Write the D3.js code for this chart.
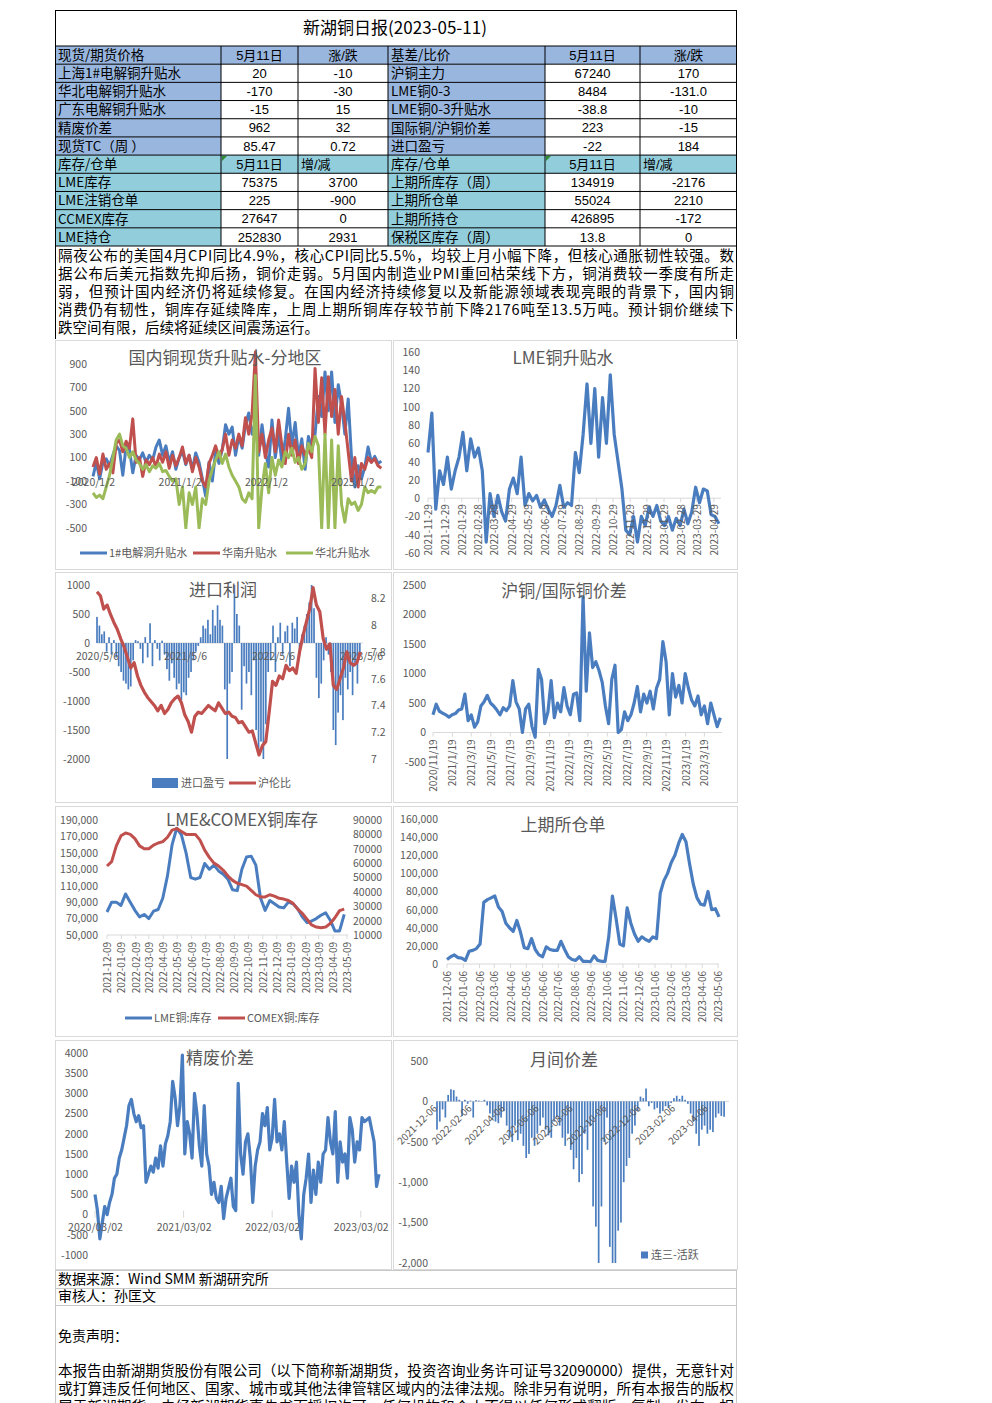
<!DOCTYPE html>
<html><head><meta charset="utf-8">
<script src="https://cdn.jsdelivr.net/npm/d3@7"></script>
<style>
html,body{margin:0;padding:0;background:#fff;}
</style></head><body>
<svg id="page" width="992" height="1403"></svg>
<script>
// ---------------- TABLE DATA ----------------
const tableTitle = "新湖铜日报(2023-05-11)";
const priceHeader = ["现货/期货价格","5月11日","涨/跌","基差/比价","5月11日","涨/跌"];
const priceLabelsL = ["上海1#电解铜升贴水","华北电解铜升贴水","广东电解铜升贴水","精废价差","现货TC（周 ）"];
const priceValuesL = ["20","-170","-15","962","85.47"];
const priceChangesL = ["-10","-30","15","32","0.72"];
const priceLabelsR = ["沪铜主力","LME铜0-3","LME铜0-3升贴水","国际铜/沪铜价差","进口盈亏"];
const priceValuesR = ["67240","8484","-38.8","223","-22"];
const priceChangesR = ["170","-131.0","-10","-15","184"];
const stockHeader = ["库存/仓单","5月11日","增/减","库存/仓单","5月11日","增/减"];
const stockLabelsL = ["LME库存","LME注销仓单","CCMEX库存","LME持仓"];
const stockValuesL = ["75375","225","27647","252830"];
const stockChangesL = ["3700","-900","0","2931"];
const stockLabelsR = ["上期所库存（周）","上期所仓单","上期所持仓","保税区库存（周）"];
const stockValuesR = ["134919","55024","426895","13.8"];
const stockChangesR = ["-2176","2210","-172","0"];
const commentLines = [
"隔夜公布的美国4月CPI同比4.9%，核心CPI同比5.5%，均较上月小幅下降，但核心通胀韧性较强。数",
"据公布后美元指数先抑后扬，铜价走弱。5月国内制造业PMI重回枯荣线下方，铜消费较一季度有所走",
"弱，但预计国内经济仍将延续修复。在国内经济持续修复以及新能源领域表现亮眼的背景下，国内铜",
"消费仍有韧性，铜库存延续降库，上周上期所铜库存较节前下降2176吨至13.5万吨。预计铜价继续下",
"跌空间有限，后续将延续区间震荡运行。"];
const footerLines = ["数据来源：Wind SMM 新湖研究所","审核人：孙匡文"];
const disclaimerTitle = "免责声明：";
const disclaimerLines = [
"本报告由新湖期货股份有限公司（以下简称新湖期货，投资咨询业务许可证号32090000）提供，无意针对",
"或打算违反任何地区、国家、城市或其他法律管辖区域内的法律法规。除非另有说明，所有本报告的版权",
"属于新湖期货。未经新湖期货事先书面授权许可，任何机构和个人不得以任何形式翻版、复制、发布、相"];

// ---------------- CHART 1: 国内铜现货升贴水-分地区 ----------------
const c1Start = "2020-01-02", c1Step = 14;
const c1Ticks = ["2020/1/2","2021/1/2","2022/1/2","2023/1/2"];
const c1YTicks = [-500,-300,-100,100,300,500,700,900];
const c1Names = ["1#电解洞升贴水","华南升贴水","华北升贴水"];
const c1Shanghai = [-60,60,-80,60,90,30,120,200,160,-50, 200,170,-30,120,80,140,60,120,80,190, 250,120,200,60,150,0,100,150,40,120, 0,140,60,-80,-230,60,-100,150,50,170, 380,300,360,120,280,180,380,480,300,400, 120,380,150,20,420,100,300,60,250,520, 200,400,100,260,0,280,180,300,620,450, 830,500,830,400,720,550,300,600,100,-150, 30,-80,20,190,60,110,50,70];
const c1South = [20,100,-40,130,0,50,-30,220,250,150, 240,180,430,60,100,-60,80,40,100,20, 130,60,150,10,120,30,100,190,50,120, -20,100,20,-100,-150,50,120,200,100,170, 300,120,250,180,300,200,440,300,470,1000, 150,300,100,250,350,150,420,200,50,300, 120,250,50,200,120,180,100,860,400,780, 300,790,450,680,300,620,400,150,-100,100, -150,50,0,100,60,90,30,10];
const c1North = [-200,-240,-220,-250,-150,-50,100,250,300,200, 180,100,150,80,50,0,40,-20,30,10, 50,-20,-10,-60,-100,-80,-300,-150,-500,-200, -300,-150,-500,-250,-300,-100,0,80,150,50, 130,20,-50,-100,-150,-250,-280,-200,-250,800, -500,-150,50,-200,100,-50,80,20,150,100, 180,60,100,0,50,220,150,280,200,-500, 300,-500,250,-500,200,-300,-450,-250,-300,-280, -350,-300,-150,-200,-180,-200,-150,-150];

// ---------------- CHART 2: LME铜升贴水 ----------------
const c2Start = "2021-11-29", c2Step = 7;
const c2Ticks = ["2021-11-29","2021-12-29","2022-01-29","2022-02-28","2022-03-29","2022-04-29","2022-05-29","2022-06-29","2022-07-29","2022-08-29","2022-09-29","2022-10-29","2022-11-29","2022-12-29","2023-01-29","2023-02-28","2023-03-29","2023-04-29"];
const c2YTicks = [-60,-40,-20,0,20,40,60,80,100,120,140,160];
const c2Values = [50,93,-12,30,15,45,10,30,45,72, 30,65,45,55,30,-48,5,-20,3,-15, -25,10,22,5,45,-8,5,-3,3,-10, -2,-12,-20,-8,14,-10,-5,-8,50,28, 70,125,60,120,45,110,60,135,70,40, 10,-35,-40,-20,-48,-20,-30,-10,-20,-8, -25,-30,-20,-35,-22,-30,-12,-28,-15,12, -5,10,8,-18,-20,-28];

// ---------------- CHART 3: 进口利润 ----------------
const c3BarStart = "2020-05-06", c3BarStep = 10;
const c3LineStart = "2020-05-06", c3LineStep = 14;
const c3Ticks = ["2020/5/6","2021/5/6","2022/5/6","2023/5/6"];
const c3YTicks = [-2000,-1500,-1000,-500,0,500,1000];
const c3RTicks = [7,7.2,7.4,7.6,7.8,8,8.2];
const c3Names = ["进口盈亏","沪伦比"];
const c3Profit = [450,300,150,200,-150,100,-200,50,-250,-400, -500,-650,-700,-800,-750,-300,50,30,-100,-350, 100,-250,340,-400,50,-100,-300,40,-200,-450, -650,-350,-600,-800,-700,-980,-850,-900,-600,-500, -300,-150,-50,100,300,250,400,150,570,300, 650,400,300,-800,-2000,-700,-500,1000,500,300, -1150,-400,-700,-500,-900,-300,-1500,-1900,-1700,-2000, -1400,-500,-300,300,-500,100,350,-200,200,300, -400,350,250,450,-200,150,300,500,700,1000, 600,-600,-950,-700,-300,100,-200,-500,-1500,-1760, -1200,-900,-1330,-600,-800,-500,-900,-400,-700,-200];
const c3Ratio = [8.25,8.22,8.12,8.15,8.08,8.02,7.97,7.9,7.84,7.76, 7.68,7.72,7.62,7.55,7.5,7.46,7.43,7.4,7.36,7.4, 7.34,7.37,7.42,7.45,7.47,7.42,7.33,7.28,7.2,7.32, 7.35,7.34,7.37,7.4,7.38,7.36,7.42,7.38,7.34,7.35, 7.32,7.31,7.27,7.28,7.24,7.2,7.21,7.12,7.03,7.1, 7.13,7.35,7.58,7.55,7.62,7.6,7.7,7.66,7.68,7.64, 7.8,7.92,8.02,8.12,8.28,8.15,8.1,7.9,7.82,7.86, 7.55,7.52,7.6,7.68,7.8,7.72,7.7,7.72,7.8];

// ---------------- CHART 4: 沪铜/国际铜价差 ----------------
const c4Start = "2020-11-19", c4Step = 10;
const c4Ticks = ["2020/11/19","2021/1/19","2021/3/19","2021/5/19","2021/7/19","2021/9/19","2021/11/19","2022/1/19","2022/3/19","2022/5/19","2022/7/19","2022/9/19","2022/11/19","2023/1/19","2023/3/19"];
const c4YTicks = [-500,0,500,1000,1500,2000,2500];
const c4Values = [300,480,360,330,300,260,300,320,380,400, 650,200,300,90,180,450,520,630,500,450, 380,300,420,370,450,880,520,400,0,400, 480,100,-80,1070,900,150,350,880,250,500, 350,760,450,300,650,670,200,2300,700,1690, 1100,1200,1050,850,450,150,900,1140,0,50, 350,200,300,500,780,350,650,500,700,400, 750,900,1540,1200,300,1000,600,800,500,1000, 750,550,450,620,300,450,150,500,300,100, 250];

// ---------------- CHART 5: LME&COMEX铜库存 ----------------
const c5Start = "2021-12-09", c5Step = 10;
const c5Ticks = ["2021-12-09","2022-01-09","2022-02-09","2022-03-09","2022-04-09","2022-05-09","2022-06-09","2022-07-09","2022-08-09","2022-09-09","2022-10-09","2022-11-09","2022-12-09","2023-01-09","2023-02-09","2023-03-09","2023-04-09","2023-05-09"];
const c5YTicks = [50000,70000,90000,110000,130000,150000,170000,190000];
const c5RTicks = [10000,20000,30000,40000,50000,60000,70000,80000,90000];
const c5Names = ["LME铜:库存","COMEX铜:库存"];
const c5LME = [78000,90000,90000,86000,100000,90000,80000,72000,75000,70000, 79000,81000,95000,122000,160000,180000,172000,150000,120000,118000, 120000,137000,130000,135000,128000,124000,118000,105000,104000,130000, 145000,146000,135000,95000,80000,92000,88000,84000,83000,90000, 88000,82000,72000,65000,67000,70000,74000,77000,68000,55000, 55000,75000];
const c5COMEX = [58000,61000,72000,79000,81000,80000,77000,72000,70000,70000, 72500,74000,75000,78000,83000,84000,82000,80000,80000,80000, 76000,69000,64000,60000,58000,55000,51000,48000,46000,45000, 44000,41000,38000,36500,36500,38000,37000,35500,35000,34000, 32000,28000,25000,21000,17000,15500,15000,15500,18000,22000, 27000,28000];

// ---------------- CHART 6: 上期所仓单 ----------------
const c6Start = "2021-12-06", c6Step = 7;
const c6Ticks = ["2021-12-06","2022-01-06","2022-02-06","2022-03-06","2022-04-06","2022-05-06","2022-06-06","2022-07-06","2022-08-06","2022-09-06","2022-10-06","2022-11-06","2022-12-06","2023-01-06","2023-02-06","2023-03-06","2023-04-06","2023-05-06"];
const c6YTicks = [0,20000,40000,60000,80000,100000,120000,140000,160000];
const c6Values = [5000,8000,10000,7000,6500,4000,14000,15000,17000,22000, 68000,71000,73000,75000,63000,58000,45000,40000,36000,48000, 35000,18000,17000,28000,16000,10000,8000,19000,16000,15000, 15000,25000,16000,8000,5000,4000,8000,3000,3000,2500, 9000,4000,3000,3000,30000,75000,50000,22000,20000,62000, 45000,33000,25000,30000,27000,25000,30000,28000,78000,92000, 100000,112000,120000,133000,143000,135000,110000,88000,73000,66000, 65000,80000,60000,61000,52000];

// ---------------- CHART 7: 精废价差 ----------------
const c7Start = "2020-03-02", c7Step = 10;
const c7Ticks = ["2020/03/02","2021/03/02","2022/03/02","2023/03/02"];
const c7YTicks = [-1000,-500,0,500,1000,1500,2000,2500,3000,3500,4000];
const c7Values = [500,100,-600,-200,200,0,300,500,900,1000, 1400,1600,1900,2200,2700,2850,2500,2300,2450,2150, 2200,800,1000,1200,1050,1400,1150,1700,1200,1750, 1950,2300,3300,2900,2200,2700,3950,1500,2300,2000, 1400,3000,2500,1700,1200,2700,1500,1200,500,800, 400,300,700,-100,400,650,900,200,100,3250, 1500,1000,1800,2000,1400,300,1200,1600,1800,2500, 2200,2650,1600,1900,2850,1800,2000,1600,2300,1300, 400,1200,800,1300,0,-600,500,900,1500,300, 1100,500,1300,800,1500,1600,2400,1800,1500,2550, 800,1800,1300,1500,900,2400,2100,1300,1800,1600, 2400,2300,2350,2400,2100,1800,700,1000];

// ---------------- CHART 8: 月间价差 ----------------
const c8Start = "2021-12-06", c8Step = 5;
const c8Ticks = ["2021-12-06","2022-02-06","2022-04-06","2022-06-06","2022-08-06","2022-10-06","2022-12-06","2023-02-06","2023-04-06"];
const c8YTicks = [-2000,-1500,-1000,-500,0,500];
const c8Name = "连三-活跃";
const c8Values = [-350,-250,-100,-200,80,150,140,60,20,-180, 20,-30,10,-200,15,10,5,20,-50,-150, -200,-250,-270,-200,-120,-300,-450,-500,-300,-480, -400,-550,-700,-650,-450,-550,-400,-300,-200,-350, -420,-450,-250,-200,-300,-450,-550,-400,-600,-840, -700,-1000,-900,-400,-600,-300,-1300,-1550,-2000,-1300, -500,-200,-1800,-2000,-2000,-1600,-1500,-1000,-800,-700, -400,-300,-120,60,40,160,-60,-20,-100,-80, -150,-120,-60,-80,-20,40,70,30,70,20, -30,-150,-250,-400,-550,-350,-300,-400,-350,-380, -200,-150,-180,-190];

// ---------------- RENDER ----------------
const FONT = '"Noto Sans CJK SC","Noto Sans",sans-serif';
const NUMFONT = '"Liberation Sans","Noto Sans CJK SC",sans-serif';
const GRAY = "#595959", BLUE = "#4a7dbf", RED = "#c0504d", GREEN = "#9bbb59";
const CELL_BLUE = "#98b6de", CELL_TEAL = "#92cddc";
const parseDash = d3.timeParse("%Y-%m-%d"), parseSlash = d3.timeParse("%Y/%m/%d");
const seriesDates = (start, step, n) => d3.range(n).map(i => d3.timeDay.offset(parseDash(start), i * step));

const svg = d3.select("#page");
const defs = svg.append("defs");
svg.append("rect").attr("width", 992).attr("height", 1403).attr("fill", "#fff");

// ----- table -----
const colX = [55, 221, 298, 388, 545, 640, 737];
const rowY0 = 46, rowH = 200 / 11;
const rows = [];
rows.push({cells: priceHeader, type: "h1"});
priceLabelsL.forEach((l, i) => rows.push({cells: [l, priceValuesL[i], priceChangesL[i], priceLabelsR[i], priceValuesR[i], priceChangesR[i]], type: "b1"}));
rows.push({cells: stockHeader, type: "h2"});
stockLabelsL.forEach((l, i) => rows.push({cells: [l, stockValuesL[i], stockChangesL[i], stockLabelsR[i], stockValuesR[i], stockChangesR[i]], type: "b2"}));

const tg = svg.append("g");
rows.forEach((r, ri) => {
  const y = rowY0 + ri * rowH;
  r.cells.forEach((c, ci) => {
    const x0 = colX[ci], x1 = colX[ci + 1];
    const isLabel = ci === 0 || ci === 3;
    let fill = "#fff";
    if (r.type === "h1") fill = CELL_BLUE;
    else if (r.type === "h2") fill = CELL_TEAL;
    else if (isLabel) fill = r.type === "b1" ? CELL_BLUE : CELL_TEAL;
    tg.append("rect").attr("x", x0).attr("y", y).attr("width", x1 - x0).attr("height", rowH).attr("fill", fill);
    const leftAlign = isLabel || (r.type === "h2" && (ci === 2 || ci === 5));
    tg.append("text").attr("x", leftAlign ? x0 + 3 : (x0 + x1) / 2).attr("y", y + rowH / 2)
      .attr("dy", "0.36em").attr("text-anchor", leftAlign ? "start" : "middle")
      .attr("font-family", isLabel ? FONT : NUMFONT).attr("font-size", isLabel ? 13.5 : 13)
      .attr("fill", "#000").text(c);
  });
});
[221, 545].forEach(x => tg.append("path").attr("d", `M${x + 1},${rowY0 + 6 * rowH + 1} l5,0 l-5,5 z`).attr("fill", "#2e8b2e"));
for (let k = 0; k <= 11; k++) tg.append("line").attr("x1", 55).attr("x2", 737).attr("y1", rowY0 + k * rowH).attr("y2", rowY0 + k * rowH).attr("stroke", "#000").attr("stroke-width", 1);
colX.slice(1, -1).forEach(x => tg.append("line").attr("x1", x).attr("x2", x).attr("y1", rowY0).attr("y2", rowY0 + 11 * rowH).attr("stroke", "#000"));
tg.append("line").attr("x1", 55).attr("x2", 737).attr("y1", 10.5).attr("y2", 10.5).attr("stroke", "#000");
tg.append("line").attr("x1", 55.5).attr("x2", 55.5).attr("y1", 10).attr("y2", 339).attr("stroke", "#000");
tg.append("line").attr("x1", 736.5).attr("x2", 736.5).attr("y1", 10).attr("y2", 339).attr("stroke", "#000");
tg.append("text").attr("x", 395).attr("y", 28).attr("dy", "0.36em").attr("text-anchor", "middle")
  .attr("font-family", FONT).attr("font-size", 17).attr("fill", "#000").text(tableTitle);

commentLines.forEach((t, i) => {
  const tx = tg.append("text").attr("x", 58).attr("y", 256 + i * 18).attr("dy", "0.36em")
    .attr("font-family", FONT).attr("font-size", 14.5).attr("fill", "#000").text(t);
  if (i < commentLines.length - 1) tx.attr("textLength", 676).attr("lengthAdjust", "spacing");
});

// ----- helpers -----
function panel(x, y, w, h) {
  svg.append("rect").attr("x", x + 0.5).attr("y", y + 0.5).attr("width", w).attr("height", h)
    .attr("fill", "#fff").attr("stroke", "#d9d9d9");
}
function title(t, cx, cy) {
  svg.append("text").attr("x", cx).attr("y", cy).attr("dy", "0.36em").attr("text-anchor", "middle")
    .attr("font-family", FONT).attr("font-size", 17).attr("fill", GRAY).text(t);
}
function styleAxis(g, size) {
  g.attr("font-family", FONT).attr("font-size", size || 10);
  g.select(".domain").remove();
  g.selectAll(".tick line").remove();
  g.selectAll("text").attr("fill", GRAY);
}
function yLeft(x, scale, ticks, fmt) {
  const g = svg.append("g").attr("transform", `translate(${x},0)`)
    .call(d3.axisLeft(scale).tickValues(ticks).tickFormat(fmt).tickSize(0).tickPadding(0));
  styleAxis(g, 10.5);
}
function yRight(x, scale, ticks, fmt) {
  const g = svg.append("g").attr("transform", `translate(${x},0)`)
    .call(d3.axisRight(scale).tickValues(ticks).tickFormat(fmt).tickSize(0).tickPadding(0));
  styleAxis(g, 10.5);
}
function xPlain(y, scale, labels, parser) {
  const dates = labels.map(parser);
  const g = svg.append("g").attr("transform", `translate(0,${y})`)
    .call(d3.axisBottom(scale).tickValues(dates).tickFormat((d, i) => labels[i]).tickSize(0).tickPadding(0));
  styleAxis(g, 10.5);
}
function xRot(y, scale, labels, parser, angle) {
  const dates = labels.map(parser);
  const g = svg.append("g").attr("transform", `translate(0,${y})`)
    .call(d3.axisBottom(scale).tickValues(dates).tickFormat((d, i) => labels[i]).tickSize(0).tickPadding(0));
  styleAxis(g, 10);
  g.selectAll("text").attr("transform", `rotate(${angle})`).attr("text-anchor", "end")
    .attr("x", -3).attr("y", 0).attr("dy", "0.35em");
}
function baseLine(y, x0, x1, scale, labels, parser, tickLen) {
  svg.append("line").attr("x1", x0).attr("x2", x1).attr("y1", y).attr("y2", y).attr("stroke", "#d9d9d9");
  if (labels) labels.map(parser).forEach(d => {
    const x = scale(d);
    svg.append("line").attr("x1", x).attr("x2", x).attr("y1", y).attr("y2", y + tickLen).attr("stroke", "#d9d9d9");
  });
}
function clip(id, x, y, w, h) {
  defs.append("clipPath").attr("id", id).append("rect").attr("x", x).attr("y", y).attr("width", w).attr("height", h);
}
function drawLine(clipId, dates, values, x, y, color, w) {
  svg.append("path").datum(values).attr("clip-path", `url(#${clipId})`).attr("fill", "none")
    .attr("stroke", color).attr("stroke-width", w).attr("stroke-linejoin", "round")
    .attr("d", d3.line().x((v, i) => x(dates[i])).y(v => y(v)));
}
function drawBars(clipId, dates, values, x, y, color, w) {
  svg.append("g").attr("clip-path", `url(#${clipId})`).selectAll("rect").data(values).join("rect")
    .attr("x", (v, i) => x(dates[i]) - w / 2).attr("y", v => Math.min(y(v), y(0)))
    .attr("width", w).attr("height", v => Math.abs(y(v) - y(0))).attr("fill", color);
}
function legendLine(x, y, color, label) {
  svg.append("line").attr("x1", x).attr("x2", x + 27).attr("y1", y).attr("y2", y).attr("stroke", color).attr("stroke-width", 3);
  svg.append("text").attr("x", x + 29).attr("y", y).attr("dy", "0.36em").attr("font-family", FONT).attr("font-size", 11).attr("fill", GRAY).text(label);
}
function legendBox(x, y, w, h, color, label) {
  svg.append("rect").attr("x", x).attr("y", y - h / 2).attr("width", w).attr("height", h).attr("fill", color);
  svg.append("text").attr("x", x + w + 3).attr("y", y).attr("dy", "0.36em").attr("font-family", FONT).attr("font-size", 11).attr("fill", GRAY).text(label);
}
const plainFmt = d => String(d);
const commaFmt = d => d.toLocaleString("en-US");

// ----- chart 1 -----
panel(55, 340, 336, 229);
{
  const x = d3.scaleTime().domain([parseDash("2020-01-02"), parseDash("2023-05-11")]).range([93, 383]);
  const y = d3.scaleLinear().domain([-500, 1000]).range([528, 352]);
  const dates = seriesDates(c1Start, c1Step, c1Shanghai.length);
  clip("cl1", 90, 350, 296, 179);
  yLeft(87, y, c1YTicks, plainFmt);
  drawLine("cl1", dates, c1Shanghai, x, y, BLUE, 3);
  drawLine("cl1", dates, c1South, x, y, RED, 3);
  drawLine("cl1", dates, c1North, x, y, GREEN, 3);
  xPlain(479, x, c1Ticks, parseSlash);
  title("国内铜现货升贴水-分地区", 225, 358);
  legendLine(80, 553, BLUE, c1Names[0]);
  legendLine(193, 553, RED, c1Names[1]);
  legendLine(286, 553, GREEN, c1Names[2]);
}

// ----- chart 2 -----
panel(393, 340, 344, 229);
{
  const x = d3.scaleTime().domain([parseDash("2021-11-29"), parseDash("2023-05-10")]).range([428, 720]);
  const y = d3.scaleLinear().domain([-60, 160]).range([553, 352]);
  const dates = seriesDates(c2Start, c2Step, c2Values.length);
  clip("cl2", 425, 350, 300, 205);
  yLeft(420, y, c2YTicks, plainFmt);
  baseLine(y(0), 428, 721, x, c2Ticks, parseDash, 4);
  drawLine("cl2", dates, c2Values, x, y, BLUE, 3.2);
  xRot(y(0) + 3, x, c2Ticks, parseDash, -90);
  title("LME铜升贴水", 563, 358);
}

// ----- chart 3 -----
panel(55, 572, 336, 230);
{
  const x = d3.scaleTime().domain([parseDash("2020-05-06"), parseDash("2023-05-10")]).range([97, 362]);
  const yL = d3.scaleLinear().domain([-2000, 1000]).range([759, 585]);
  const yR = d3.scaleLinear().domain([7, 8.3]).range([759, 585]);
  clip("cl3", 94, 584, 272, 176);
  yLeft(90, yL, c3YTicks, plainFmt);
  yRight(371, yR, c3RTicks, d => String(+d.toFixed(1)));
  baseLine(yL(0), 97, 363, x, null);
  drawBars("cl3", seriesDates(c3BarStart, c3BarStep, c3Profit.length), c3Profit, x, yL, BLUE, 1.7);
  xPlain(yL(0) + 10, x, c3Ticks, parseSlash);
  drawLine("cl3", seriesDates(c3LineStart, c3LineStep, c3Ratio.length), c3Ratio, x, yR, RED, 3.2);
  title("进口利润", 223, 590);
  legendBox(152, 783, 26, 10, BLUE, c3Names[0]);
  legendLine(229, 783, RED, c3Names[1]);
}

// ----- chart 4 -----
panel(393, 572, 344, 230);
{
  const x = d3.scaleTime().domain([parseDash("2020-11-19"), parseDash("2023-05-10")]).range([433, 721]);
  const y = d3.scaleLinear().domain([-500, 2500]).range([762, 585]);
  const dates = seriesDates(c4Start, c4Step, c4Values.length);
  clip("cl4", 430, 583, 296, 181);
  yLeft(426, y, c4YTicks, plainFmt);
  baseLine(y(0), 433, 722, x, c4Ticks, parseSlash, 4);
  drawLine("cl4", dates, c4Values, x, y, BLUE, 3.2);
  xRot(y(0) + 4, x, c4Ticks, parseSlash, -90);
  title("沪铜/国际铜价差", 564, 591);
}

// ----- chart 5 -----
panel(55, 806, 336, 230);
{
  const x = d3.scaleTime().domain([parseDash("2021-12-09"), parseDash("2023-05-09")]).range([107, 347]);
  const yL = d3.scaleLinear().domain([50000, 190000]).range([935, 820]);
  const yR = d3.scaleLinear().domain([10000, 90000]).range([935, 820]);
  const dates = seriesDates(c5Start, c5Step, c5LME.length);
  clip("cl5", 104, 816, 248, 121);
  yLeft(98, yL, c5YTicks, commaFmt);
  yRight(353, yR, c5RTicks, plainFmt);
  baseLine(935, 107, 348, x, c5Ticks, parseDash, 4);
  drawLine("cl5", dates, c5LME, x, yL, BLUE, 3);
  drawLine("cl5", dates, c5COMEX, x, yR, RED, 3);
  xRot(939, x, c5Ticks, parseDash, -90);
  title("LME&COMEX铜库存", 242, 820);
  legendLine(125, 1018, BLUE, c5Names[0]);
  legendLine(218, 1018, RED, c5Names[1]);
}

// ----- chart 6 -----
panel(393, 806, 344, 230);
{
  const x = d3.scaleTime().domain([parseDash("2021-12-06"), parseDash("2023-05-06")]).range([447, 718]);
  const y = d3.scaleLinear().domain([0, 160000]).range([964, 819]);
  const dates = seriesDates(c6Start, c6Step, c6Values.length);
  clip("cl6", 444, 815, 280, 151);
  yLeft(438, y, c6YTicks, commaFmt);
  baseLine(964, 447, 719, x, c6Ticks, parseDash, 4);
  drawLine("cl6", dates, c6Values, x, y, BLUE, 3.2);
  xRot(968, x, c6Ticks, parseDash, -90);
  title("上期所仓单", 563, 825);
}

// ----- chart 7 -----
panel(55, 1040, 336, 229);
{
  const x = d3.scaleTime().domain([parseDash("2020-03-02"), parseDash("2023-05-12")]).range([95, 378]);
  const y = d3.scaleLinear().domain([-1000, 4000]).range([1255, 1053]);
  const dates = seriesDates(c7Start, c7Step, c7Values.length);
  clip("cl7", 92, 1050, 290, 207);
  yLeft(88, y, c7YTicks, plainFmt);
  c7Ticks.map(parseSlash).forEach(d => svg.append("line").attr("x1", x(d)).attr("x2", x(d)).attr("y1", y(0) - 4).attr("y2", y(0) + 3).attr("stroke", "#d9d9d9"));
  drawLine("cl7", dates, c7Values, x, y, BLUE, 3.2);
  xPlain(1224, x, c7Ticks, parseSlash);
  title("精废价差", 220, 1058);
}

// ----- chart 8 -----
panel(393, 1040, 344, 229);
{
  const x = d3.scaleTime().domain([parseDash("2021-12-06"), parseDash("2023-05-12")]).range([437, 728]);
  const y = d3.scaleLinear().domain([-2000, 500]).range([1263, 1061]);
  const dates = seriesDates(c8Start, c8Step, c8Values.length);
  clip("cl8", 434, 1058, 298, 207);
  yLeft(428, y, c8YTicks, commaFmt);
  baseLine(y(0), 437, 729, x, null);
  drawBars("cl8", dates, c8Values, x, y, BLUE, 1.7);
  xRot(y(0) + 3, x, c8Ticks, parseDash, -45);
  title("月间价差", 564, 1060);
  legendBox(641, 1255, 7, 7, BLUE, c8Name);
}

// ----- footer -----
const fg = svg.append("g");
[1270.5, 1288.5, 1305.5].forEach(y => fg.append("line").attr("x1", 55).attr("x2", 737).attr("y1", y).attr("y2", y).attr("stroke", "#c8c8c8"));
fg.append("line").attr("x1", 55.5).attr("x2", 55.5).attr("y1", 1270).attr("y2", 1403).attr("stroke", "#c8c8c8");
fg.append("line").attr("x1", 736.5).attr("x2", 736.5).attr("y1", 1270).attr("y2", 1403).attr("stroke", "#c8c8c8");
footerLines.forEach((t, i) => fg.append("text").attr("x", 58).attr("y", 1279 + i * 17).attr("dy", "0.36em")
  .attr("font-family", FONT).attr("font-size", 14).attr("fill", "#000").text(t));
fg.append("text").attr("x", 58).attr("y", 1336).attr("dy", "0.36em").attr("font-family", FONT).attr("font-size", 14).attr("fill", "#000").text(disclaimerTitle);
disclaimerLines.forEach((t, i) => fg.append("text").attr("x", 58).attr("y", 1371 + i * 18).attr("dy", "0.36em")
  .attr("font-family", FONT).attr("font-size", 14.5).attr("fill", "#000")
  .attr("textLength", 676).attr("lengthAdjust", "spacingAndGlyphs").text(t));
</script>
</body></html>
